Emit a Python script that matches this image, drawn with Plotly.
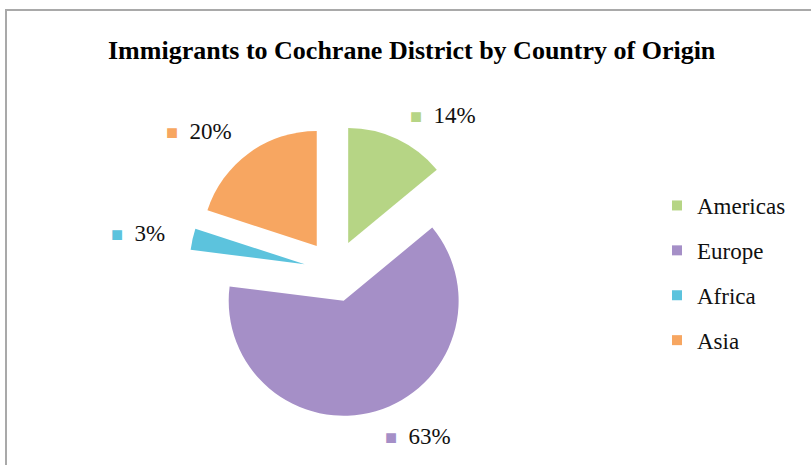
import math
import plotly.graph_objects as go

# ---- data ----
categories = ["Americas", "Europe", "Africa", "Asia"]
values = [14, 63, 3, 20]
colors = ["#b6d585", "#a58fc7", "#5cc3dd", "#f7a661"]
title_text = "Immigrants to Cochrane District by Country of Origin"

W, H = 811, 465
FONT = "Liberation Serif, Times New Roman, serif"

# pie domain (paper)
dom_x = [189 / W, 481 / W]
dom_y = [1 - 417 / H, 1 - 125 / H]
pull = 0.27

fig = go.Figure()
fig.add_trace(go.Pie(
    labels=categories, values=values, sort=False, direction="clockwise",
    rotation=0, pull=[pull] * len(values),
    marker=dict(colors=colors, line=dict(width=0)),
    textinfo="none", hoverinfo="label+percent", showlegend=False,
    domain=dict(x=dom_x, y=dom_y),
))

# legend via empty marker traces (one group each for spacing)
for c, col in zip(categories, colors):
    fig.add_trace(go.Scatter(
        x=[None], y=[None], mode="markers", name=c, legendgroup=c,
        marker=dict(symbol="square", size=10, color=col),
    ))

# percentage labels placed outside each slice at its mid-angle
cx = (dom_x[0] + dom_x[1]) / 2
cy = (dom_y[0] + dom_y[1]) / 2
total = sum(values)
cum = 0
annotations = []
D = 172  # px from pie centre
for v, col in zip(values, colors):
    mid = (cum + v / 2) / total * 2 * math.pi
    cum += v
    sx, sy = math.sin(mid), math.cos(mid)
    pct = round(v / total * 100)
    annotations.append(dict(
        x=cx + D * sx / W, y=cy + D * sy / H, xref="paper", yref="paper",
        xanchor="left" if sx > 0 else "right", yanchor="middle",
        text=f"<span style='font-size:20px;color:{col}'>■</span>  {pct}%",
        showarrow=False, font=dict(family=FONT, size=23, color="#111111"),
    ))

annotations.append(dict(
    x=412 / W, y=1 - 51 / H, xref="paper", yref="paper",
    xanchor="center", yanchor="middle", showarrow=False,
    text=f"<b>{title_text}</b>",
    font=dict(family=FONT, size=26, color="#000000"),
))

fig.update_layout(
    width=W, height=H,
    margin=dict(l=0, r=0, t=0, b=0),
    paper_bgcolor="white", plot_bgcolor="white",
    xaxis=dict(visible=False), yaxis=dict(visible=False),
    showlegend=True,
    legend=dict(
        x=657 / W, y=1 - 184 / H, xanchor="left", yanchor="top",
        font=dict(family=FONT, size=23, color="#111111"),
        tracegroupgap=12, itemwidth=30, bgcolor="rgba(0,0,0,0)",
    ),
    annotations=annotations,
    shapes=[dict(type="rect", xref="paper", yref="paper",
                 x0=6 / W, x1=1.05, y0=-0.05, y1=1 - 10 / H,
                 line=dict(color="#a9a9a9", width=2), layer="below")],
)

fig.write_html("out.html")
